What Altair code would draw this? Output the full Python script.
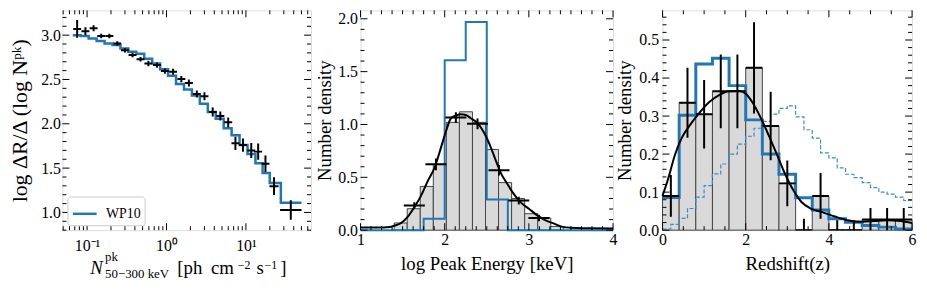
import altair as alt
import pandas as pd

FONT = "Liberation Serif"
BLUE = "#1f77b4"

# ---------------- Panel 1 data: log N - log S ----------------
p1_flux = [0.0750, 0.0953, 0.1208, 0.1507, 0.1910, 0.2404, 0.2999, 0.3741, 0.4710,
           0.5916, 0.7586, 0.9550, 1.211, 1.538, 1.914, 2.410, 3.006, 3.819, 4.764,
           5.984, 7.379, 9.183, 11.67, 14.26, 17.62, 22.59, 36.73]
p1_val = [3.07, 3.045, 3.078, 2.99, 2.99, 2.906, 2.83, 2.777, 2.728, 2.68, 2.662,
          2.595, 2.587, 2.505, 2.46, 2.337, 2.311, 2.133, 2.088, 2.017, 1.78, 1.76,
          1.698, 1.686, 1.55, 1.296, 1.027]
p1_err = [0.10, 0.045, 0.035, 0.025, 0.025, 0.025, 0.025, 0.025, 0.025, 0.03, 0.03,
          0.03, 0.035, 0.035, 0.04, 0.04, 0.045, 0.05, 0.05, 0.055, 0.075, 0.075,
          0.085, 0.093, 0.093, 0.10, 0.11]
p1_xerr_dex = [0.05, 0.05, 0.05, 0.05, 0.05, 0.05, 0.05, 0.05, 0.05, 0.05, 0.05,
               0.05, 0.05, 0.05, 0.05, 0.05, 0.05, 0.05, 0.05, 0.05, 0.05, 0.05,
               0.05, 0.05, 0.05, 0.058, 0.135]
wp10_edges = [0.0661, 0.0832, 0.1047, 0.1318, 0.166, 0.2089, 0.263, 0.3311, 0.4169,
              0.5248, 0.6607, 0.8318, 1.047, 1.318, 1.66, 2.089, 2.63, 3.311, 4.169,
              5.248, 6.607, 8.318, 10.47, 13.18, 16.22, 19.95, 27.54, 50.12]
wp10_vals = [3.0, 2.99, 2.962, 2.933, 2.906, 2.888, 2.85, 2.813, 2.79, 2.735, 2.68,
             2.616, 2.542, 2.449, 2.386, 2.319, 2.225, 2.133, 2.058, 1.95, 1.87,
             1.76, 1.66, 1.556, 1.444, 1.333, 1.11]

# ---------------- Panel 2 data: peak energy ----------------
ep_edges = [1.40, 1.555, 1.71, 1.865, 2.02, 2.175, 2.33, 2.485, 2.64, 2.795, 2.95,
            3.105, 3.26, 3.415]
ep_hist = [0.068, 0.203, 0.414, 0.623, 1.02, 1.12, 1.02, 0.763, 0.45, 0.30, 0.156,
           0.115, 0.035]
ep_blue_edges = [1.0, 1.25, 1.5, 1.75, 2.0, 2.25, 2.5, 2.75, 3.0, 3.25, 3.5, 3.75, 4.0]
ep_blue_vals = [0, 0, 0, 0.109, 1.607, 1.97, 0.29, 0, 0, 0, 0, 0]
ep_pts_x = [1.639, 1.896, 2.133, 2.39, 2.645, 2.88, 3.12]
ep_pts_y = [0.234, 0.623, 1.065, 1.006, 0.567, 0.28, 0.115]
ep_pts_yerr = [0.03, 0.055, 0.05, 0.05, 0.05, 0.037, 0.03]
ep_pts_xerr = [0.125, 0.125, 0.125, 0.125, 0.125, 0.125, 0.125]
ep_curve_x = [1.0, 1.2, 1.35, 1.40, 1.48, 1.56, 1.64, 1.72, 1.80, 1.88, 1.955, 2.015,
              2.075, 2.135, 2.19, 2.25, 2.31, 2.39, 2.44, 2.49, 2.55, 2.61, 2.665,
              2.745, 2.82, 2.90, 3.0, 3.1, 3.2, 3.3, 3.4, 3.5, 3.7, 4.0]
ep_curve_y = [0.025, 0.025, 0.03, 0.042, 0.066, 0.125, 0.218, 0.327, 0.467, 0.592,
              0.779, 0.935, 1.059, 1.084, 1.096, 1.09, 1.059, 1.012, 0.96, 0.888,
              0.779, 0.654, 0.545, 0.436, 0.343, 0.265, 0.203, 0.14, 0.093, 0.062,
              0.031, 0.022, 0.018, 0.015]

# ---------------- Panel 3 data: redshift ----------------
z_edges = [0.0, 0.4, 0.8, 1.2, 1.6, 2.0, 2.4, 2.8, 3.2, 3.6, 4.0, 4.4, 4.8, 5.2, 5.6, 6.0]
z_hist = [0.09, 0.335, 0.305, 0.365, 0.365, 0.427, 0.274, 0.123, 0.0, 0.09, 0.0, 0.0,
          0.028, 0.028, 0.028]
z_err = [0.055, 0.092, 0.09, 0.097, 0.097, 0.12, 0.09, 0.06, 0.03, 0.06, 0.026, 0.026,
         0.03, 0.03, 0.03]
z_blue = [0.086, 0.302, 0.437, 0.452, 0.38, 0.29, 0.2, 0.147, 0.085, 0.053, 0.03,
          0.021, 0.012, 0.008, 0.003]
z_dash_edges = [0.0, 0.2, 0.4, 0.6, 0.8, 1.0, 1.2, 1.4, 1.6, 1.8, 2.0, 2.2, 2.4, 2.6,
                2.8, 3.0, 3.2, 3.4, 3.6, 3.8, 4.0, 4.2, 4.4, 4.6, 4.8, 5.0, 5.2, 5.4,
                5.6, 5.8, 6.0]
z_dash = [0.003, 0.015, 0.031, 0.057, 0.087, 0.117, 0.148, 0.174, 0.2, 0.226, 0.247,
          0.268, 0.286, 0.305, 0.32, 0.327, 0.298, 0.264, 0.242, 0.203, 0.19, 0.164,
          0.147, 0.138, 0.125, 0.112, 0.1, 0.095, 0.087, 0.078]
z_curve_x = [0.0, 0.135, 0.29, 0.45, 0.65, 0.89, 1.125, 1.36, 1.6, 1.84, 2.0, 2.155,
             2.35, 2.55, 2.75, 2.95, 3.15, 3.34, 3.58, 3.82, 4.14, 4.45, 4.77, 5.09,
             5.4, 5.72, 6.0]
z_curve_y = [0.09, 0.135, 0.195, 0.24, 0.275, 0.309, 0.337, 0.355, 0.365, 0.366,
             0.359, 0.337, 0.298, 0.25, 0.199, 0.147, 0.104, 0.074, 0.056, 0.048,
             0.036, 0.026, 0.022, 0.024, 0.026, 0.024, 0.019]

# ---------------- helpers ----------------
AX = dict(grid=False, ticks=False, tickSize=0, domain=False, labelFont=FONT,
          labelFontSize=16, labelColor="black", titleFont=FONT,
          titleColor="black", titleFontWeight="normal", labelOverlap=False,
          labelFlush=False)


def step_df(edges, vals):
    return pd.DataFrame({"x": list(edges), "y": list(vals) + [vals[-1]]})


def tick_layers(sx, sy, W, H, xmaj, xmin, ymaj, ymin):
    out = []
    for vals, L in ((xmaj, 7), (xmin, 4)):
        c = alt.Chart(pd.DataFrame({"v": vals}))
        m = c.mark_rule(color="black", strokeWidth=1)
        out.append(m.encode(x=alt.X("v:Q", scale=sx, axis=None),
                            y=alt.value(H), y2=alt.value(H - L)))
        out.append(m.encode(x=alt.X("v:Q", scale=sx, axis=None),
                            y=alt.value(0), y2=alt.value(L)))
    for vals, L in ((ymaj, 7), (ymin, 4)):
        c = alt.Chart(pd.DataFrame({"v": vals}))
        m = c.mark_rule(color="black", strokeWidth=1)
        out.append(m.encode(y=alt.Y("v:Q", scale=sy, axis=None),
                            x=alt.value(0), x2=alt.value(L)))
        out.append(m.encode(y=alt.Y("v:Q", scale=sy, axis=None),
                            x=alt.value(W), x2=alt.value(W - L)))
    return out


def cross_layers(df, sx, sy, width=2):
    h = alt.Chart(df).mark_rule(color="black", strokeWidth=width, clip=True).encode(
        x=alt.X("xlo:Q", scale=sx, axis=None), x2="xhi:Q",
        y=alt.Y("y:Q", scale=sy, axis=None))
    v = alt.Chart(df).mark_rule(color="black", strokeWidth=width, clip=True).encode(
        x=alt.X("x:Q", scale=sx, axis=None),
        y=alt.Y("ylo:Q", scale=sy, axis=None), y2="yhi:Q")
    return [h, v]


one = pd.DataFrame({"a": [0]})


def txt(s, x, y, size, italic=False):
    return alt.Chart(one).mark_text(
        text=s, align="left", baseline="alphabetic", font=FONT, fontSize=size,
        fontStyle="italic" if italic else "normal", color="black"
    ).encode(x=alt.value(x), y=alt.value(y))


def panel(layers, W, H):
    return alt.layer(*layers).resolve_axis(x="independent", y="independent").properties(
        width=W, height=H)


# ---------------- Panel 1 ----------------
W1, W2, W3, H = 251, 255, 252, 222
sx1 = alt.Scale(type="log", domain=[0.049, 66], nice=False)
sy1 = alt.Scale(domain=[0.8, 3.28], nice=False, zero=False)

df_wp = step_df(wp10_edges, wp10_vals)
df_wp["s"] = "WP10"
line_wp = alt.Chart(df_wp).mark_line(interpolate="step-after", strokeWidth=2.5).encode(
    x=alt.X("x:Q", scale=sx1, axis=alt.Axis(
        values=[0.1, 1, 10], title=None, labelPadding=8,
        labelExpr="datum.value < 0.5 ? '10⁻¹' : (datum.value < 5 ? '10⁰' : '10¹')", **AX)),
    y=alt.Y("y:Q", scale=sy1, axis=alt.Axis(
        values=[1.0, 1.5, 2.0, 2.5, 3.0], format=".1f",
        title="log ΔR/Δ (log Nᵖᵏ)", titleFontSize=22,
        labelPadding=2, titlePadding=9, **AX)),
    color=alt.Color("s:N", scale=alt.Scale(range=[BLUE]), legend=alt.Legend(
        title=None, orient="bottom-left", offset=5, fillColor="white",
        strokeColor="#cccccc", cornerRadius=3, padding=4, labelFont=FONT,
        labelFontSize=14, labelColor="black", symbolType="stroke", symbolSize=576,
        symbolStrokeWidth=2.5, labelOffset=8)),
)

df1 = pd.DataFrame({"x": p1_flux, "y": p1_val, "e": p1_err, "d": p1_xerr_dex})
df1["xlo"] = df1["x"] / 10 ** df1["d"]
df1["xhi"] = df1["x"] * 10 ** df1["d"]
df1["ylo"] = df1["y"] - df1["e"]
df1["yhi"] = df1["y"] + df1["e"]

x1maj = [0.1, 1, 10]
x1min = [m * 10.0 ** k for k in (-2, -1, 0, 1) for m in range(2, 10)
         if 0.049 <= m * 10.0 ** k <= 66]
y1maj = [1.0, 1.5, 2.0, 2.5, 3.0]
y1min = [round(0.8 + 0.1 * i, 2) for i in range(25)]
y1min = [v for v in y1min if round(v * 2, 4) != round(v * 2) and v <= 3.28]

title1 = [
    txt("N", 28, 266, 19, italic=True),
    txt("pk", 43, 253, 13),
    txt("50−300 keV", 43, 270, 13),
    txt("[ph", 116, 266, 19),
    txt("cm", 150, 266, 19),
    txt("−2", 177, 261, 12),
    txt("s", 196, 266, 19),
    txt("−1", 204, 261, 12),
    txt("]", 220, 266, 19),
]

p1 = panel([line_wp, *cross_layers(df1, sx1, sy1),
            *tick_layers(sx1, sy1, W1, H, x1maj, x1min, y1maj, y1min),
            *title1], W1, H)

# ---------------- Panel 2 ----------------
sx2 = alt.Scale(domain=[1, 4], nice=False, zero=False)
sy2 = alt.Scale(domain=[0, 2.08], nice=False)

df_eh = pd.DataFrame({"x0": ep_edges[:-1], "x1": ep_edges[1:], "h": ep_hist, "b": 0})
bars2 = alt.Chart(df_eh).mark_rect(fill="#d9d9d9", stroke="#444444", strokeWidth=1).encode(
    x=alt.X("x0:Q", scale=sx2, axis=alt.Axis(
        values=[1, 2, 3, 4], format="d", title="log Peak Energy [keV]", titleFontSize=19,
        labelPadding=1, titlePadding=8, **AX)),
    x2="x1:Q",
    y=alt.Y("h:Q", scale=sy2, axis=alt.Axis(
        values=[0, 0.5, 1.0, 1.5, 2.0], format=".1f", title="Number density",
        titleFontSize=19, labelPadding=3, titlePadding=3, **AX)),
    y2="b:Q",
)
blue2 = alt.Chart(step_df(ep_blue_edges, ep_blue_vals)).mark_line(
    interpolate="step-after", strokeWidth=2, color=BLUE).encode(
    x=alt.X("x:Q", scale=sx2, axis=None), y=alt.Y("y:Q", scale=sy2, axis=None))
curve2 = alt.Chart(pd.DataFrame({"x": ep_curve_x, "y": ep_curve_y})).mark_line(
    interpolate="monotone", strokeWidth=2, color="black").encode(
    x=alt.X("x:Q", scale=sx2, axis=None), y=alt.Y("y:Q", scale=sy2, axis=None))
df2 = pd.DataFrame({"x": ep_pts_x, "y": ep_pts_y, "e": ep_pts_yerr, "d": ep_pts_xerr})
df2["xlo"] = df2["x"] - df2["d"]
df2["xhi"] = df2["x"] + df2["d"]
df2["ylo"] = df2["y"] - df2["e"]
df2["yhi"] = df2["y"] + df2["e"]

x2maj = [1, 2, 3, 4]
x2min = [round(1 + 0.125 * i, 3) for i in range(25) if i % 8 != 0]
y2maj = [0, 0.5, 1.0, 1.5, 2.0]
y2min = [round(0.1 * i, 2) for i in range(21) if i % 5 != 0]

p2 = panel([bars2, blue2, curve2, *cross_layers(df2, sx2, sy2),
            *tick_layers(sx2, sy2, W2, H, x2maj, x2min, y2maj, y2min)], W2, H)

# ---------------- Panel 3 ----------------
sx3 = alt.Scale(domain=[0, 6], nice=False)
sy3 = alt.Scale(domain=[0, 0.578], nice=False)

df_zh = pd.DataFrame({"x0": z_edges[:-1], "x1": z_edges[1:], "h": z_hist, "b": 0})
bars3 = alt.Chart(df_zh).mark_rect(fill="#d9d9d9", stroke="#444444", strokeWidth=1).encode(
    x=alt.X("x0:Q", scale=sx3, axis=alt.Axis(
        values=[0, 2, 4, 6], format="d", title="Redshift(z)", titleFontSize=19,
        labelPadding=1, titlePadding=8, **AX)),
    x2="x1:Q",
    y=alt.Y("h:Q", scale=sy3, axis=alt.Axis(
        values=[0, 0.1, 0.2, 0.3, 0.4, 0.5], format=".1f", title="Number density",
        titleFontSize=19, labelPadding=4, titlePadding=4, **AX)),
    y2="b:Q",
)
dash3 = alt.Chart(step_df(z_dash_edges, z_dash)).mark_line(
    interpolate="step-after", strokeWidth=1.2, color="#3a8ccf", strokeDash=[4, 2]).encode(
    x=alt.X("x:Q", scale=sx3, axis=None), y=alt.Y("y:Q", scale=sy3, axis=None))
blue3 = alt.Chart(step_df(z_edges, z_blue)).mark_line(
    interpolate="step-after", strokeWidth=3, color=BLUE).encode(
    x=alt.X("x:Q", scale=sx3, axis=None), y=alt.Y("y:Q", scale=sy3, axis=None))
curve3 = alt.Chart(pd.DataFrame({"x": z_curve_x, "y": z_curve_y})).mark_line(
    interpolate="monotone", strokeWidth=2, color="black").encode(
    x=alt.X("x:Q", scale=sx3, axis=None), y=alt.Y("y:Q", scale=sy3, axis=None))
zc = [(a + b) / 2 for a, b in zip(z_edges[:-1], z_edges[1:])]
df3 = pd.DataFrame({"x": zc, "y": z_hist, "e": z_err})
df3["xlo"] = df3["x"] - 0.2
df3["xhi"] = df3["x"] + 0.2
df3["ylo"] = df3["y"] - df3["e"]
df3["yhi"] = df3["y"] + df3["e"]

x3maj = [0, 2, 4, 6]
x3min = [0.5 * i for i in range(13) if i % 4 != 0]
y3maj = [0, 0.1, 0.2, 0.3, 0.4, 0.5]
y3min = [round(0.02 * i, 3) for i in range(29) if i % 5 != 0]

p3 = panel([bars3, dash3, blue3, *cross_layers(df3, sx3, sy3), curve3,
            *tick_layers(sx3, sy3, W3, H, x3maj, x3min, y3maj, y3min)], W3, H)

chart = alt.hconcat(p1, p2, p3, spacing=50, bounds="flush").resolve_scale(
    color="independent").properties(padding=0, background="white").configure_view(
    stroke="black", strokeWidth=1).configure(font=FONT)

chart.save("out.html", embed_options={"renderer": "svg", "actions": False})
